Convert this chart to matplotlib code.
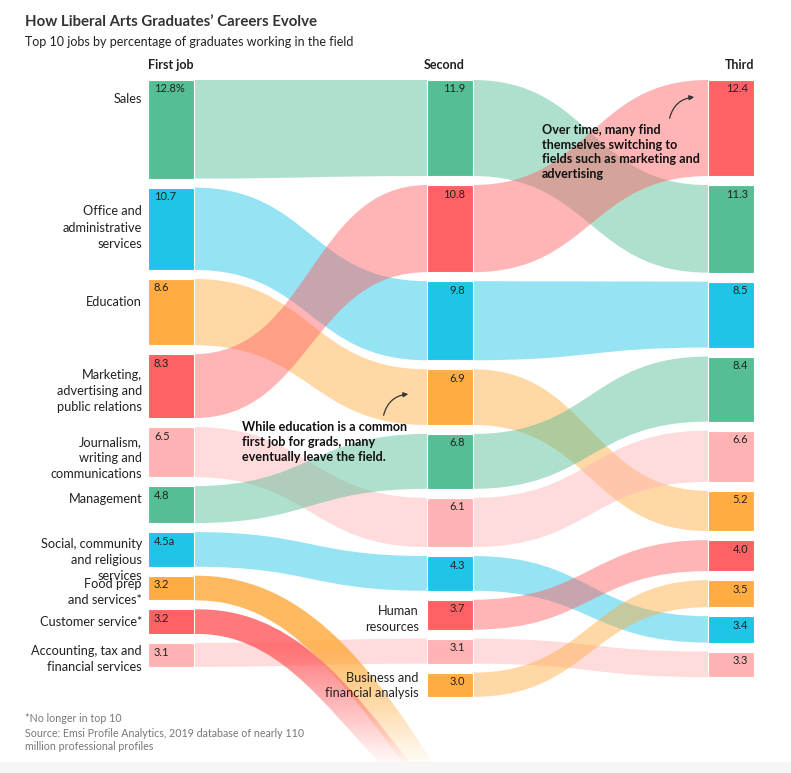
import numpy as np
import matplotlib.pyplot as plt
from matplotlib.path import Path
from matplotlib.patches import PathPatch, Rectangle
from matplotlib.colors import to_rgb

plt.rcParams['font.family'] = ['Lato', 'DejaVu Sans']

# data
first_jobs = ["sales", "office", "education", "marketing", "journalism",
              "management", "social", "food", "customer", "accounting"]
first_values = [12.8, 10.7, 8.6, 8.3, 6.5, 4.8, 4.5, 3.2, 3.2, 3.1]
first_value_text = ["12.8%", "10.7", "8.6", "8.3", "6.5", "4.8", "4.5a", "3.2", "3.2", "3.1"]

second_jobs = ["sales", "marketing", "office", "education", "management",
               "journalism", "social", "hr", "accounting", "business"]
second_values = [11.9, 10.8, 9.8, 6.9, 6.8, 6.1, 4.3, 3.7, 3.1, 3.0]

third_jobs = ["marketing", "sales", "office", "management", "journalism",
              "education", "hr", "business", "social", "accounting"]
third_values = [12.4, 11.3, 8.5, 8.4, 6.6, 5.2, 4.0, 3.5, 3.4, 3.3]

job_names = {
    "sales": "Sales",
    "office": "Office and\nadministrative\nservices",
    "education": "Education",
    "marketing": "Marketing,\nadvertising and\npublic relations",
    "journalism": "Journalism,\nwriting and\ncommunications",
    "management": "Management",
    "social": "Social, community\nand religious\nservices",
    "food": "Food prep\nand services*",
    "customer": "Customer service*",
    "accounting": "Accounting, tax and\nfinancial services",
    "hr": "Human\nresources",
    "business": "Business and\nfinancial analysis",
}

GREEN, BLUE, ORANGE, RED, PINK = "#55be95", "#1ec5e7", "#ffad43", "#ff6164", "#ffb3b3"
job_colors = {
    "sales": GREEN, "office": BLUE, "education": ORANGE, "marketing": RED,
    "journalism": PINK, "management": GREEN, "social": BLUE, "food": ORANGE,
    "customer": RED, "accounting": PINK, "hr": RED, "business": ORANGE,
}

# layout (pixels)
W, H = 791, 773
col_x = [148, 427, 708]
node_w = 46
top = 80
gap = 9
scales = [7.7, 8.07, 7.75]
first_label_off = [19, 40, 23, 37, 31, 13, 28, 16, 13, 16]
second_label_off = {"hr": 19, "business": 13}


def stack(values, scale):
    tops, bots = [], []
    y = top
    for v in values:
        tops.append(y)
        bots.append(y + v * scale)
        y += v * scale + gap
    return tops, bots


def band_path(x0, t0, b0, x1, t1, b1):
    xm = (x0 + x1) / 2
    verts = [(x0, t0), (xm, t0), (xm, t1), (x1, t1),
             (x1, b1), (xm, b1), (xm, b0), (x0, b0), (x0, t0)]
    codes = [Path.MOVETO, Path.CURVE4, Path.CURVE4, Path.CURVE4,
             Path.LINETO, Path.CURVE4, Path.CURVE4, Path.CURVE4, Path.CLOSEPOLY]
    return Path(verts, codes)


fig = plt.figure(figsize=(W / 100, H / 100), dpi=100)
ax = fig.add_axes([0, 0, 1, 1])
ax.set_xlim(0, W)
ax.set_ylim(H, 0)
ax.axis("off")

columns = [(first_jobs, first_values), (second_jobs, second_values), (third_jobs, third_values)]
pos = []
for (jobs, vals), sc in zip(columns, scales):
    t, b = stack(vals, sc)
    pos.append({j: (tt, bb) for j, tt, bb in zip(jobs, t, b)})

# links between columns
for c in range(2):
    for job, (t0, b0) in pos[c].items():
        if job not in pos[c + 1]:
            continue
        t1, b1 = pos[c + 1][job]
        p = band_path(col_x[c] + node_w, t0, b0, col_x[c + 1], t1, b1)
        ax.add_patch(PathPatch(p, facecolor=job_colors[job], alpha=0.47,
                               edgecolor="none", zorder=1))

# jobs that drop out of the top 10 after the first job
drop_curves = {
    "food": [(300, 574, 368, 660, 436, 768), (290, 599, 343, 685, 410, 772)],
    "customer": [(290, 607, 346, 680, 414, 768), (275, 632, 320, 700, 388, 772)],
}
for job, (tc, bc) in drop_curves.items():
    t0, b0 = pos[0][job]
    x0 = col_x[0] + node_w
    verts = [(x0, t0), (tc[0], tc[1]), (tc[2], tc[3]), (tc[4], tc[5]),
             (bc[4], bc[5]), (bc[2], bc[3]), (bc[0], bc[1]), (x0, b0), (x0, t0)]
    codes = [Path.MOVETO, Path.CURVE4, Path.CURVE4, Path.CURVE4,
             Path.LINETO, Path.CURVE4, Path.CURVE4, Path.CURVE4, Path.CLOSEPOLY]
    patch = PathPatch(Path(verts, codes), facecolor="none", edgecolor="none")
    ax.add_patch(patch)
    yy = np.linspace(560, 780, 200)
    alpha = np.clip((768 - yy) / 120, 0, 1) * 0.85
    img = np.zeros((len(yy), 2, 4))
    img[:, :, :3] = to_rgb(job_colors[job])
    img[:, :, 3] = alpha[:, None]
    im = ax.imshow(img, extent=(190, 460, 780, 560), aspect="auto", zorder=2,
                   interpolation="bilinear")
    im.set_clip_path(patch)

# nodes
for c, (jobs, vals) in enumerate(columns):
    for job in jobs:
        t, b = pos[c][job]
        ax.add_patch(Rectangle((col_x[c], t), node_w, b - t, facecolor=job_colors[job],
                               edgecolor="white", lw=0.8, zorder=3))

# value labels
for job, txt in zip(first_jobs, first_value_text):
    t, b = pos[0][job]
    ax.text(col_x[0] + 6, t + 9, txt, fontsize=8, ha="left", va="center", color="#222", zorder=4)
for c in (1, 2):
    jobs, vals = columns[c]
    for job, v in zip(jobs, vals):
        t, b = pos[c][job]
        ax.text(col_x[c] + node_w - (8 if c == 1 else 6), t + 9, f"{v:.1f}", fontsize=8,
                ha="right", va="center", color="#222", zorder=4)

# category labels
for job, off in zip(first_jobs, first_label_off):
    t, b = pos[0][job]
    ax.text(142, t + off, job_names[job], fontsize=9.2, ha="right", va="center",
            linespacing=1.42, color="#222", zorder=4)
for job, off in second_label_off.items():
    t, b = pos[1][job]
    ax.text(419, t + off, job_names[job], fontsize=9.2, ha="right", va="center",
            linespacing=1.35, color="#222", zorder=4)

# headers
ax.text(col_x[0], 65, "First job", fontsize=9, fontweight="bold", ha="left", va="center", color="#222")
ax.text(col_x[1] - 3, 65, "Second", fontsize=9, fontweight="bold", ha="left", va="center", color="#222")
ax.text(col_x[2] + node_w, 65, "Third", fontsize=9, fontweight="bold", ha="right", va="center", color="#222")

# title
ax.text(25, 22, "How Liberal Arts Graduates\u2019 Careers Evolve", fontsize=10.8,
        fontweight="bold", ha="left", va="center", color="#333")
ax.text(25, 42, "Top 10 jobs by percentage of graduates working in the field", fontsize=9,
        ha="left", va="center", color="#222")

# annotations
ax.text(242, 442, "While education is a common\nfirst job for grads, many\neventually leave the field.",
        fontsize=9.1, fontweight="bold", ha="left", va="center", linespacing=1.28, color="#111", zorder=5)
ax.annotate("", xy=(411, 394), xytext=(383, 418),
            arrowprops=dict(arrowstyle="-|>", color="#333", lw=0.9, mutation_scale=7,
                            connectionstyle="arc3,rad=-0.4"), zorder=5)
ax.text(542, 152, "Over time, many find\nthemselves switching to\nfields such as marketing and\nadvertising",
        fontsize=9.1, fontweight="bold", ha="left", va="center", linespacing=1.28, color="#111", zorder=5)
ax.annotate("", xy=(697, 97), xytext=(669, 121),
            arrowprops=dict(arrowstyle="-|>", color="#333", lw=0.9, mutation_scale=7,
                            connectionstyle="arc3,rad=-0.4"), zorder=5)

# footnote
ax.text(25, 718, "*No longer in top 10", fontsize=7.7, color="#777", ha="left", va="center")
ax.text(25, 740, "Source: Emsi Profile Analytics, 2019 database of nearly 110\nmillion professional profiles",
        fontsize=7.7, color="#777", ha="left", va="center", linespacing=1.2)

ax.add_patch(Rectangle((0, 762), W, 11, facecolor="#f6f6f6", edgecolor="none", zorder=6))

fig.savefig("out.png", dpi=100)
